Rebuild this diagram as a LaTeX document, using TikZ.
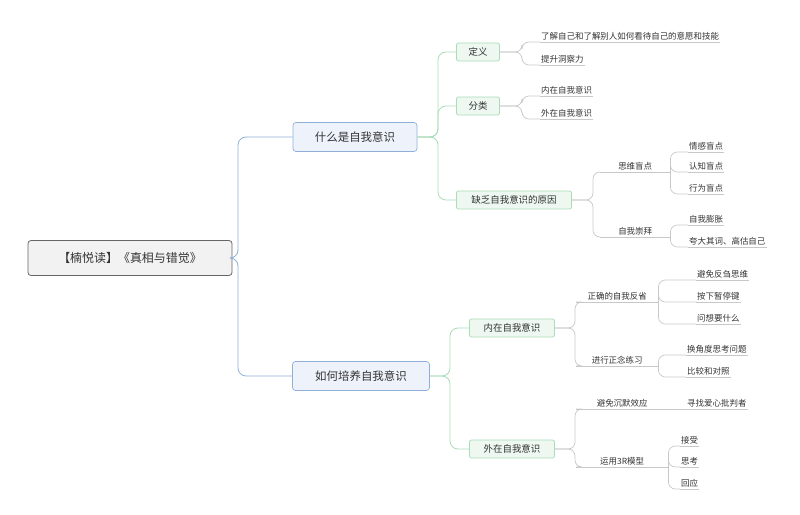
\documentclass[tikz,border=0pt]{standalone}
\usepackage{fontspec}
\setmainfont{Noto Sans CJK SC}
\begin{document}
\begin{tikzpicture}[x=1bp,y=-1bp,
  rootbox/.style={draw=gray!80!black,fill=gray!10,rounded corners=3bp,line width=0.8bp,minimum width=204bp,minimum height=35bp,font=\fontsize{12}{14}\selectfont,text=black!80},
  mainbox/.style={draw=bl,fill=blfill,rounded corners=3bp,line width=0.7bp,minimum height=29bp,font=\fontsize{11.5}{14}\selectfont,text=black!80},
  subbox/.style={draw=gr,fill=grfill,rounded corners=2bp,line width=0.7bp,minimum height=18bp,font=\fontsize{9.5}{12}\selectfont,text=black!80},
  leaf/.style={anchor=south west,inner xsep=1bp,inner ysep=2bp,font=\fontsize{8.5}{10}\selectfont,text=black!80},
  bline/.style={draw=bl,line width=0.8bp,rounded corners=8bp},
  gline/.style={draw=gr,line width=0.8bp,rounded corners=8bp},
  lline/.style={draw=ln,line width=0.7bp,rounded corners=7bp}]
\definecolor{bl}{HTML}{8FB0D8}
\definecolor{blfill}{HTML}{EEF3FB}
\definecolor{gr}{HTML}{A9DCB8}
\definecolor{grfill}{HTML}{EEF8F0}
\definecolor{ln}{HTML}{C8C8C8}
\useasboundingbox (0,0) rectangle (800,515);
% root and main
\node[rootbox] (root) at (130,258) {【楠悦读】《真相与错觉》};
\node[mainbox,minimum width=124bp] (m1) at (355,137) {什么是自我意识};
\node[mainbox,minimum width=137bp] (m2) at (361,376) {如何培养自我意识};
\draw[bline] (root.east) -- (238,258) |- (m1.west);
\draw[bline] (root.east) -- (238,258) |- (m2.west);
% main1 subs
\node[subbox,minimum width=43bp] (s1) at (478,52) {定义};
\node[subbox,minimum width=43bp] (s2) at (478,106) {分类};
\node[subbox,minimum width=115bp] (s3) at (514,200) {缺乏自我意识的原因};
\foreach \s in {s1,s2,s3} \draw[gline] (m1.east) -- (438,137) |- (\s.west);
% 定义 leaves
\node[leaf] (d1) at (540,42) {了解自己和了解别人如何看待自己的意愿和技能};
\node[leaf] (d2) at (540,65) {提升洞察力};
\foreach \l in {d1,d2} {\draw[lline] (s1.east) -- (522,52) |- (\l.south west); \draw[ln,line width=0.7bp] (\l.south west) -- (\l.south east);}
% 分类 leaves
\node[leaf] (f1) at (540,96) {内在自我意识};
\node[leaf] (f2) at (540,119) {外在自我意识};
\foreach \l in {f1,f2} {\draw[lline] (s2.east) -- (522,106) |- (\l.south west); \draw[ln,line width=0.7bp] (\l.south west) -- (\l.south east);}
% 原因
\node[leaf,minimum width=70bp,align=center] (y1) at (600,172) {思维盲点};
\node[leaf,minimum width=70bp,align=center] (y2) at (600,237) {自我崇拜};
\foreach \l in {y1,y2} {\draw[lline] (s3.east) -- (593,200) |- (\l.south west); \draw[ln,line width=0.7bp] (\l.south west) -- (\l.south east);}
\node[leaf] (y11) at (688,152) {情感盲点};
\node[leaf] (y12) at (688,172) {认知盲点};
\node[leaf] (y13) at (688,194) {行为盲点};
\foreach \l in {y11,y12,y13} {\draw[lline] (y1.south east) |- (\l.south west); \draw[ln,line width=0.7bp] (\l.south west) -- (\l.south east);}
\node[leaf] (y21) at (688,225) {自我膨胀};
\node[leaf] (y22) at (688,247) {夸大其词、高估自己};
\foreach \l in {y21,y22} {\draw[lline] (y2.south east) |- (\l.south west); \draw[ln,line width=0.7bp] (\l.south west) -- (\l.south east);}
% main2 subs
\node[subbox,minimum width=85bp] (t1) at (512,328) {内在自我意识};
\node[subbox,minimum width=85bp] (t2) at (512,449) {外在自我意识};
\foreach \s in {t1,t2} \draw[gline] (m2.east) -- (450,376) |- (\s.west);
% 内在
\node[leaf,minimum width=82bp,align=center] (n1) at (576,302) {正确的自我反省};
\node[leaf,minimum width=82bp,align=center] (n2) at (576,366) {进行正念练习};
\foreach \l in {n1,n2} {\draw[lline] (t1.east) -- (575,328) |- (\l.south west); \draw[ln,line width=0.7bp] (\l.south west) -- (\l.south east);}
\node[leaf] (n11) at (696,280) {避免反刍思维};
\node[leaf] (n12) at (696,302) {按下暂停键};
\node[leaf] (n13) at (696,324) {问想要什么};
\foreach \l in {n11,n12,n13} {\draw[lline] (n1.south east) |- (\l.south west); \draw[ln,line width=0.7bp] (\l.south west) -- (\l.south east);}
\node[leaf] (n21) at (686,355) {换角度思考问题};
\node[leaf] (n22) at (686,377) {比较和对照};
\foreach \l in {n21,n22} {\draw[lline] (n2.south east) |- (\l.south west); \draw[ln,line width=0.7bp] (\l.south west) -- (\l.south east);}
% 外在
\node[leaf,minimum width=92bp,align=center] (w1) at (576,409) {避免沉默效应};
\node[leaf,minimum width=92bp,align=center] (w2) at (576,467) {运用3R模型};
\foreach \l in {w1,w2} {\draw[lline] (t2.east) -- (575,449) |- (\l.south west); \draw[ln,line width=0.7bp] (\l.south west) -- (\l.south east);}
\node[leaf] (w11) at (686,409) {寻找爱心批判者};
\draw[ln,line width=0.7bp] (w1.south east) -- (w11.south east);
\node[leaf] (w21) at (680,446) {接受};
\node[leaf] (w22) at (680,467) {思考};
\node[leaf] (w23) at (680,489) {回应};
\foreach \l in {w21,w22,w23} {\draw[lline] (w2.south east) |- (\l.south west); \draw[ln,line width=0.7bp] (\l.south west) -- (\l.south east);}
\end{tikzpicture}
\end{document}
